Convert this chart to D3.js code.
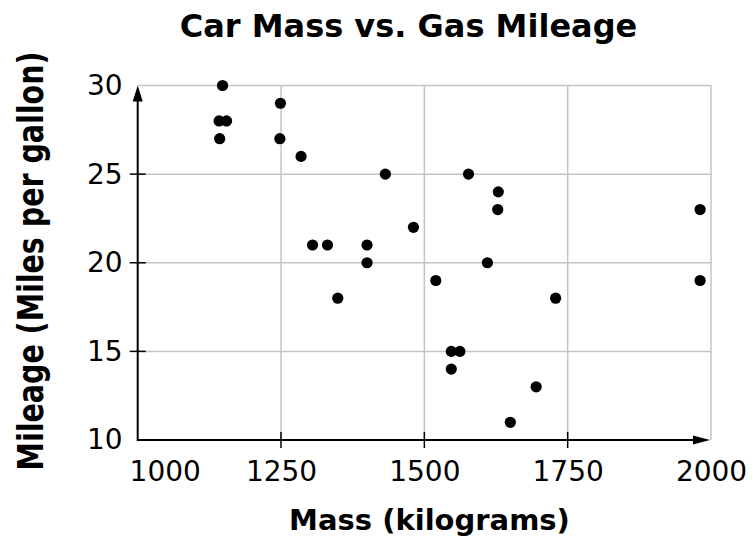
<!DOCTYPE html>
<html>
<head>
<meta charset="utf-8">
<script src="https://cdn.jsdelivr.net/npm/d3@7"></script>
<style>
  body { margin: 0; background: #fff; }
  svg { display: block; }
  .grid line { stroke: #c4c4c4; stroke-width: 1.5; }
  .tick text { font-family: "DejaVu Sans", Verdana, sans-serif; font-size: 28px; fill: #000; }
  .title { font-family: "DejaVu Sans", Verdana, sans-serif; font-weight: bold; fill: #000; }
</style>
</head>
<body>
<div id="chart"></div>
<script>
// car data
const masses   = [1148, 1142, 1155, 1143, 1249, 1248, 1285, 1432, 1481,
                  1305, 1331, 1400, 1400, 1349, 1577, 1629, 1628, 1981,
                  1610, 1520, 1981, 1729, 1547, 1562, 1547, 1695, 1650];
const mileages = [30, 28, 28, 27, 29, 27, 26, 25, 22,
                  21, 21, 21, 20, 18, 25, 24, 23, 23,
                  20, 19, 19, 18, 15, 15, 14, 13, 11];
const xTicks = [1000, 1250, 1500, 1750, 2000];
const yTicks = [10, 15, 20, 25, 30];

const ctx = {
    W: 753,
    H: 536,
    left: 137.7,
    right: 711,
    top: 85.5,
    bottom: 440,
};

function makeChart(){
    let svgEl = d3.select("#chart").append("svg")
                  .attr("width", ctx.W)
                  .attr("height", ctx.H);

    let x = d3.scaleLinear().domain([1000, 2000]).range([ctx.left, ctx.right]);
    let y = d3.scaleLinear().domain([10, 30]).range([ctx.bottom, ctx.top]);

    // grid
    let grid = svgEl.append("g").attr("class", "grid");
    grid.selectAll("line.h")
        .data(yTicks.filter(d => d > 10))
        .enter().append("line")
        .attr("x1", ctx.left).attr("x2", ctx.right)
        .attr("y1", d => y(d)).attr("y2", d => y(d));
    grid.selectAll("line.v")
        .data(xTicks.filter(d => d > 1000))
        .enter().append("line")
        .attr("x1", d => x(d)).attr("x2", d => x(d))
        .attr("y1", ctx.top).attr("y2", ctx.bottom);

    // axes (labels only, lines drawn below)
    let xAxis = svgEl.append("g")
        .attr("transform", `translate(0,${ctx.bottom})`)
        .call(d3.axisBottom(x).tickValues(xTicks).tickSize(0).tickPadding(21).tickFormat(d3.format("d")));
    xAxis.select(".domain").remove();
    xAxis.selectAll(".tick").filter(d => d === 1000).select("text").attr("dx", 27);

    let yAxis = svgEl.append("g")
        .attr("transform", `translate(${ctx.left},0)`)
        .call(d3.axisLeft(y).tickValues(yTicks).tickSize(0).tickPadding(15));
    yAxis.select(".domain").remove();

    // tick marks crossing the axes
    svgEl.append("g").selectAll("line")
        .data([1250, 1500, 1750])
        .enter().append("line")
        .attr("x1", d => x(d)).attr("x2", d => x(d))
        .attr("y1", ctx.bottom - 8).attr("y2", ctx.bottom + 8)
        .attr("stroke", "#000").attr("stroke-width", 1.5);
    svgEl.append("g").selectAll("line")
        .data([15, 20, 25])
        .enter().append("line")
        .attr("x1", ctx.left - 8).attr("x2", ctx.left + 8)
        .attr("y1", d => y(d)).attr("y2", d => y(d))
        .attr("stroke", "#000").attr("stroke-width", 1.5);

    // axis lines with arrows
    svgEl.append("line")
         .attr("x1", ctx.left).attr("x2", ctx.right - 10)
         .attr("y1", ctx.bottom).attr("y2", ctx.bottom)
         .attr("stroke", "#000").attr("stroke-width", 2);
    svgEl.append("line")
         .attr("x1", ctx.left).attr("x2", ctx.left)
         .attr("y1", ctx.bottom + 1).attr("y2", ctx.top + 10)
         .attr("stroke", "#000").attr("stroke-width", 2);
    svgEl.append("path")
         .attr("d", `M${ctx.right - 1},${ctx.bottom} l-17,-4.5 l0,9 z`)
         .attr("fill", "#000");
    svgEl.append("path")
         .attr("d", `M${ctx.left},${ctx.top} l-5,16 l10,0 z`)
         .attr("fill", "#000");

    // points
    let pts = masses.map((m, i) => ({m: m, g: mileages[i]}));
    svgEl.append("g").selectAll("circle")
         .data(pts)
         .enter().append("circle")
         .attr("cx", d => x(d.m))
         .attr("cy", d => y(d.g))
         .attr("r", 5.6)
         .attr("fill", "#000");

    // titles
    svgEl.append("text").attr("class", "title")
         .attr("x", 408.5).attr("y", 37)
         .attr("text-anchor", "middle")
         .style("font-size", "32px")
         .text("Car Mass vs. Gas Mileage");
    svgEl.append("text").attr("class", "title")
         .attr("x", 429.5).attr("y", 530)
         .attr("text-anchor", "middle")
         .style("font-size", "29px")
         .text("Mass (kilograms)");
    svgEl.append("text").attr("class", "title")
         .attr("transform", "translate(43,261) rotate(-90) scale(1,1.25)")
         .attr("text-anchor", "middle")
         .style("font-size", "28.5px")
         .text("Mileage (Miles per gallon)");
};

makeChart();
</script>
</body>
</html>
